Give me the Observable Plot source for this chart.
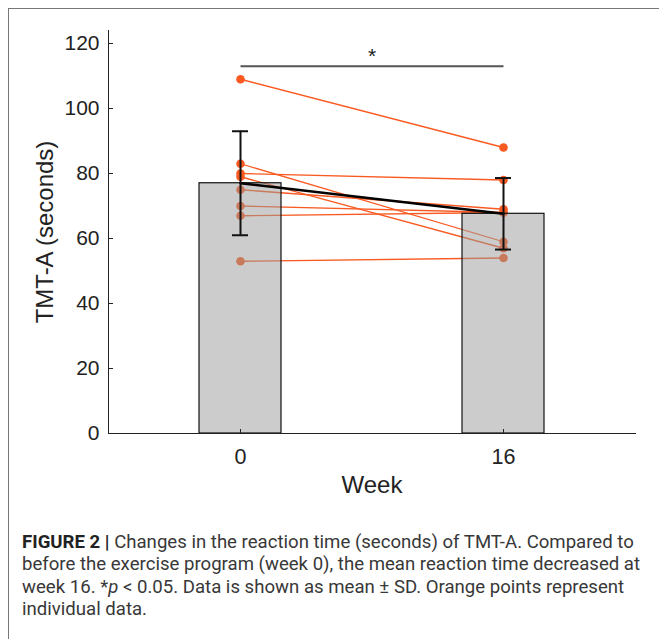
<!DOCTYPE html>
<html><head><meta charset="utf-8">
<script src="https://cdn.jsdelivr.net/npm/d3@7"></script>
<script src="https://cdn.jsdelivr.net/npm/@observablehq/plot@0.6"></script>
<style>
body{margin:0;background:#fff;width:659px;height:639px;overflow:hidden;position:relative;font-family:"Liberation Sans",Arial,sans-serif;}
#frame{position:absolute;left:8px;top:8px;width:700px;height:700px;border-left:1px solid #777;border-top:1px solid #777;}
#chart{position:absolute;left:0;top:0;}
#caption{position:absolute;left:22px;top:531px;width:634px;font-family:Roboto,sans-serif;font-size:18.6px;line-height:22.3px;color:#383838;white-space:nowrap;}
#caption b{color:#222;font-weight:700;}
svg [aria-label="x-axis label"], svg [aria-label="y-axis label"]{font-size:24px;}
</style></head>
<body>
<div id="frame"></div>
<div id="chart"></div>
<div id="caption"><b>FIGURE 2 |</b> Changes in the reaction time (seconds) of TMT-A. Compared to<br>before the exercise program (week 0), the mean reaction time decreased at<br>week 16. *<i>p</i> &lt; 0.05. Data is shown as mean ± SD. Orange points represent<br>individual data.</div>
<script>
const weeks = ["0", "16"];
const week0 = [109, 83, 80, 79, 75, 70, 67, 53];
const week16 = [88, 59, 78, 57, 69, 68, 68, 54];
const meanValues = [77, 67.6];
const sdValues = [16, 11];
const yTicks = [0, 20, 40, 60, 80, 100, 120];
const sigY = [113];
const sigLabel = ["*"];

const individual = week0.flatMap((v, i) => [
  {subject: i, week: weeks[0], value: v},
  {subject: i, week: weeks[1], value: week16[i]}
]);
const summary = weeks.map((w, i) => ({week: w, mean: meanValues[i], sd: sdValues[i]}));
const orange = "#f95a21";

const plot = Plot.plot({
  width: 659, height: 510,
  marginLeft: 108, marginRight: 24, marginTop: 30, marginBottom: 77,
  style: {fontFamily: '"Liberation Sans", Arial, sans-serif', color: "#222", background: "transparent"},
  x: {type: "band", domain: weeks, paddingInner: 0.69, paddingOuter: 0.345},
  y: {domain: [0, 124]},
  marks: [
    Plot.link(sigY, {x1: () => weeks[0], x2: () => weeks[1], y1: d => d, y2: d => d, stroke: "#555", strokeWidth: 2}),
    Plot.text(sigLabel, {y: () => sigY[0], text: d => d, frameAnchor: "middle", fontSize: 21, dy: -10, lineAnchor: "middle", fill: "#222"}),
    Plot.line(individual, {x: "week", y: "value", z: "subject", stroke: orange, strokeWidth: 1.3}),
    Plot.dot(individual, {x: "week", y: "value", r: 4.3, fill: orange}),
    Plot.barY(summary, {x: "week", y: "mean", fill: "#999", fillOpacity: 0.5, stroke: "#111", strokeWidth: 1.2}),
    Plot.line(summary, {x: "week", y: "mean", stroke: "#000", strokeWidth: 2.5}),
    Plot.ruleX(summary, {x: "week", y1: d => d.mean - d.sd, y2: d => d.mean + d.sd, stroke: "#111", strokeWidth: 2}),
    Plot.tickY(summary, {x: "week", y: d => d.mean + d.sd, insetLeft: 33, insetRight: 33, stroke: "#111", strokeWidth: 2}),
    Plot.tickY(summary, {x: "week", y: d => d.mean - d.sd, insetLeft: 33, insetRight: 33, stroke: "#111", strokeWidth: 2}),
    Plot.frame({anchor: "left", stroke: "#222"}),
    Plot.frame({anchor: "bottom", stroke: "#222"}),
    Plot.axisY({ticks: yTicks, tickSize: -5, tickPadding: 14, fontSize: 21, label: "TMT-A (seconds)", labelAnchor: "center", labelArrow: "none", labelOffset: 73}),
    Plot.axisX({tickSize: -4, tickPadding: 19, fontSize: 21.5, label: "Week", labelAnchor: "center", labelArrow: "none", labelOffset: 59})
  ]
});
document.getElementById("chart").appendChild(plot);
</script>
</body></html>
